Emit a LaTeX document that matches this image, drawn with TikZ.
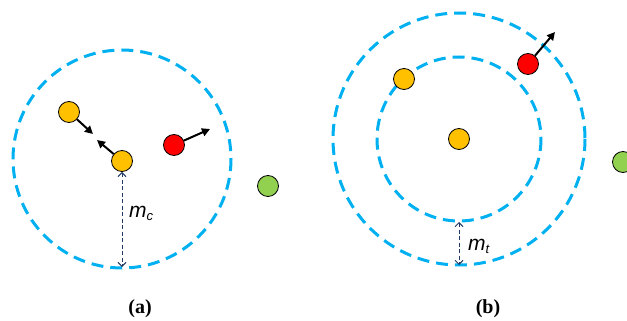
\documentclass[tikz,border=0pt]{standalone}
\usepackage{fontspec}
\setmainfont{Liberation Serif}
\newfontfamily\lsans{Liberation Sans}
\usetikzlibrary{arrows.meta}
\definecolor{ringblue}{RGB}{0,176,240}
\definecolor{navy}{RGB}{32,56,100}
\definecolor{gold}{RGB}{255,192,0}
\definecolor{leaf}{RGB}{146,208,80}
\newcommand{\labfont}{\lsans\itshape\fontsize{21pt}{24pt}\selectfont}
\newcommand{\subfont}{\lsans\itshape\fontsize{13pt}{15pt}\selectfont}
\newcommand{\capfont}{\rmfamily\bfseries\fontsize{20pt}{23pt}\selectfont}
\tikzset{
  ring/.style={draw=ringblue, line width=3pt, dash pattern=on 12pt off 7pt},
  ball/.style={circle, draw=black, line width=0.8pt, minimum size=21pt, inner sep=0pt},
  yball/.style={ball, fill=gold},
  rball/.style={ball, fill=red},
  gball/.style={ball, fill=leaf},
  move/.style={line width=2pt, -{Triangle[length=8pt,width=8pt]}},
  measure/.style={draw=navy, line width=1pt, dash pattern=on 4pt off 2.5pt,
    {Straight Barb[length=4pt,width=8pt]}-{Straight Barb[length=4pt,width=8pt]}},
  lab/.style={anchor=west, inner sep=0pt},
  captxt/.style={inner sep=0pt}
}
\begin{document}
\begin{tikzpicture}[x=1pt, y=-1pt]
\useasboundingbox (0,0) rectangle (627,321);
% panel (a)
\draw[ring] (122,159) circle[radius=109];
\node[yball] (a0) at (122,161) {};
\node[yball] (a1) at (69,112) {};
\node[rball] (ar) at (174,145) {};
\node[gball] (ag) at (268,186) {};
\coordinate (a1t) at (93,134);
\coordinate (a0t) at (97,140);
\coordinate (art) at (210,129);
\coordinate (abot) at (122,267);
\draw[move] (a1) -- (a1t);
\draw[move] (a0) -- (a0t);
\draw[move] (ar) -- (art);
\draw[measure] (a0.south) -- (abot);
\node[lab] (mc) at (129,213) {\labfont m\raisebox{-3pt}{\subfont c}};
\node[captxt] (capa) at (140,309) {\capfont (a)};
% panel (b)
\draw[ring] (459,139) circle[radius=126];
\draw[ring] (459,139) circle[radius=82];
\node[yball] (b0) at (459,139) {};
\node[yball] (b1) at (404,79) {};
\node[rball] (br) at (528,64) {};
\node[gball] (bg) at (623,162) {};
\coordinate (brt) at (555,32);
\coordinate (btop) at (459,222);
\coordinate (bbot) at (459,265);
\draw[move] (br) -- (brt);
\draw[measure] (btop) -- (bbot);
\node[lab] (mt) at (468,246) {\labfont m\raisebox{-3pt}{\subfont t}};
\node[captxt] (capb) at (488,309) {\capfont (b)};
\end{tikzpicture}
\end{document}
